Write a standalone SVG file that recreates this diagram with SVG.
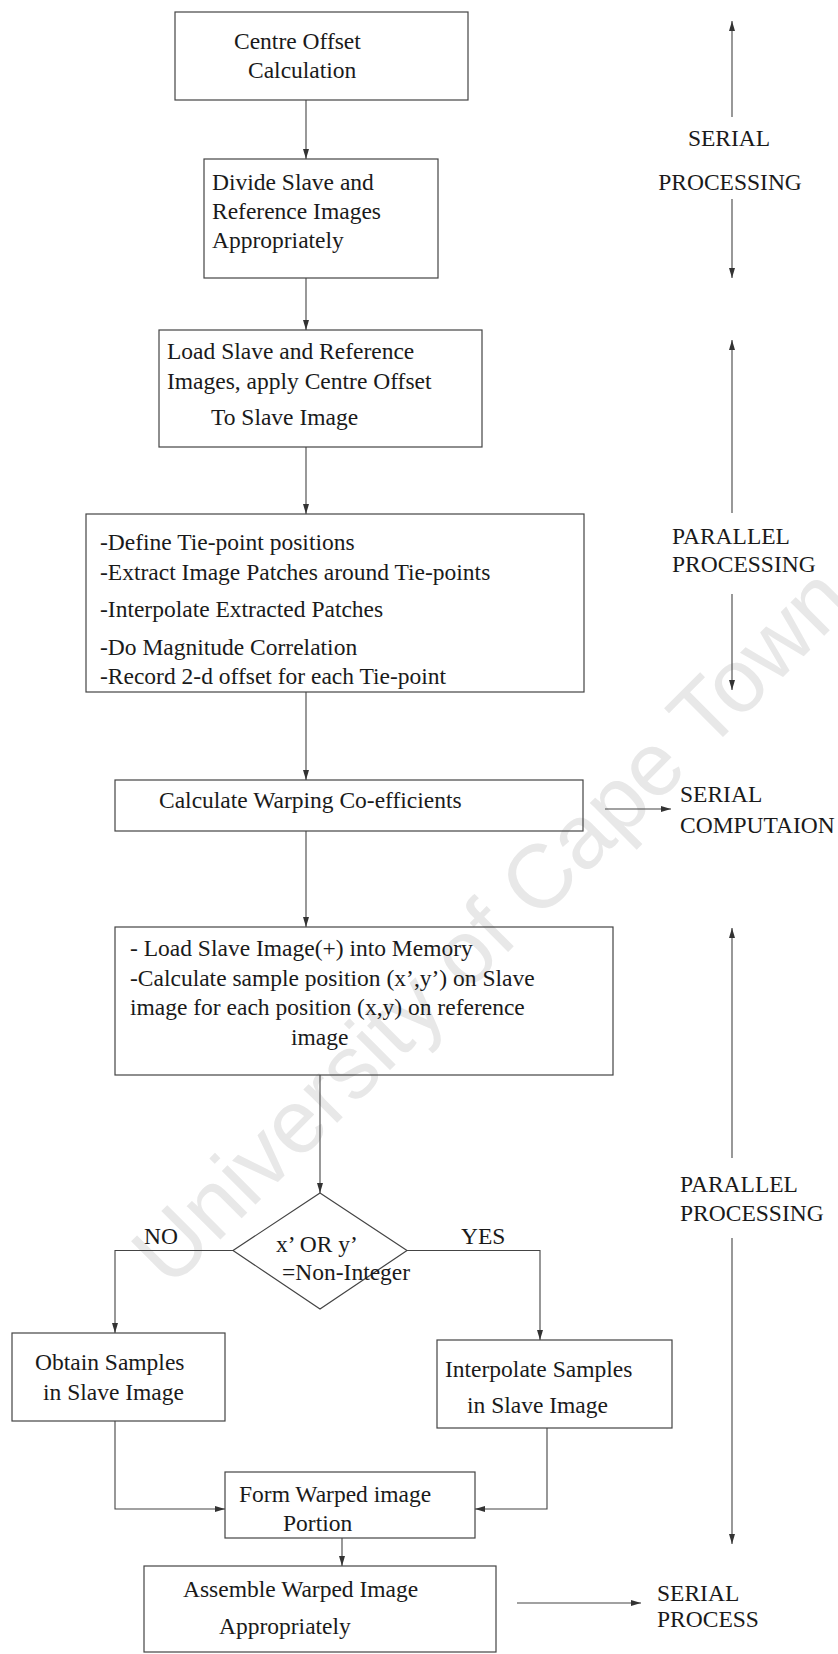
<svg xmlns="http://www.w3.org/2000/svg" width="838" height="1654" viewBox="0 0 838 1654">
<defs>
<marker id="ah" viewBox="0 0 10 6" refX="10" refY="3" markerWidth="10" markerHeight="6" markerUnits="userSpaceOnUse" orient="auto">
<path d="M0,0 L10,3 L0,6 Z" fill="#333"/>
</marker>
<style>
.bx{fill:none;stroke:#444;stroke-width:1.2}
.ar{fill:none;stroke:#444;stroke-width:1.1;marker-end:url(#ah)}
text{font-family:"Liberation Serif","Times New Roman",serif;font-size:23.5px;fill:#1a1a1a}
.wm{font-family:"Liberation Sans",Arial,sans-serif;font-size:90px;fill:#e8e8e8}
</style>
</defs>
<rect width="838" height="1654" fill="#fff"/>
<text class="wm" x="170" y="1290" transform="rotate(-45 170 1290)">University of Cape Town</text>

<g id="connectors">
<path class="ar" d="M306,100 V159"/>
<path class="ar" d="M306,278 V330"/>
<path class="ar" d="M306,447 V514"/>
<path class="ar" d="M306,692 V780"/>
<path class="ar" d="M306,831 V927"/>
<path class="ar" d="M320,1075 V1193"/>
<path class="ar" d="M233,1250.5 H115 V1333"/>
<path class="ar" d="M407,1250.5 H540 V1340"/>
<path class="ar" d="M115,1421 V1509 H225"/>
<path class="ar" d="M547,1428 V1509 H475"/>
<path class="ar" d="M342,1538 V1566"/>
<path class="ar" d="M605,809 H671"/>
<path class="ar" d="M517,1603 H641"/>
<path class="ar" d="M732,117 V21"/>
<path class="ar" d="M732,199 V278"/>
<path class="ar" d="M732,513 V340"/>
<path class="ar" d="M732,594 V690"/>
<path class="ar" d="M732,1158 V928"/>
<path class="ar" d="M732,1238 V1544"/>
</g>

<g id="n1"><rect class="bx" x="175" y="12" width="293" height="88"/>
<text x="234" y="49">Centre Offset</text><text x="248" y="78">Calculation</text></g>

<g id="n2"><rect class="bx" x="204" y="159" width="234" height="119"/>
<text x="212" y="190">Divide Slave and</text><text x="212" y="219">Reference Images</text><text x="212" y="248">Appropriately</text></g>

<g id="n3"><rect class="bx" x="159" y="330" width="323" height="117"/>
<text x="167" y="359">Load Slave and Reference</text><text x="167" y="389">Images, apply Centre Offset</text><text x="211" y="425">To Slave Image</text></g>

<g id="n4"><rect class="bx" x="86" y="514" width="498" height="178"/>
<text x="100" y="550">-Define Tie-point positions</text>
<text x="100" y="580">-Extract Image Patches around Tie-points</text>
<text x="100" y="617">-Interpolate Extracted Patches</text>
<text x="100" y="655">-Do Magnitude Correlation</text>
<text x="100" y="684">-Record 2-d offset for each Tie-point</text></g>

<g id="n5"><rect class="bx" x="115" y="780" width="468" height="51"/>
<text x="159" y="808">Calculate Warping Co-efficients</text></g>

<g id="n6"><rect class="bx" x="115" y="927" width="498" height="148"/>
<text x="130" y="956">- Load Slave Image(+) into Memory</text>
<text x="130" y="986">-Calculate sample position (x’,y’) on Slave</text>
<text x="130" y="1015">image for each position (x,y) on reference</text>
<text x="291" y="1045">image</text></g>

<g id="n7"><polygon class="bx" points="320,1193 407,1250.5 320,1309 233,1250.5"/>
<text x="276" y="1252">x’ OR y’</text><text x="282" y="1280">=Non-Integer</text></g>

<g id="lbl-no"><text x="144" y="1244">NO</text></g>
<g id="lbl-yes"><text x="461" y="1244">YES</text></g>

<g id="n8"><rect class="bx" x="12" y="1333" width="213" height="88"/>
<text x="35" y="1370">Obtain Samples</text><text x="43" y="1400">in Slave Image</text></g>

<g id="n9"><rect class="bx" x="437" y="1340" width="235" height="88"/>
<text x="445" y="1377">Interpolate Samples</text><text x="467" y="1413">in Slave Image</text></g>

<g id="n10"><rect class="bx" x="225" y="1472" width="250" height="66"/>
<text x="239" y="1502">Form Warped image</text><text x="283" y="1531">Portion</text></g>

<g id="n11"><rect class="bx" x="144" y="1566" width="352" height="86"/>
<text x="183" y="1597">Assemble Warped Image</text><text x="219" y="1634">Appropriately</text></g>

<g id="side-labels">
<text x="729" y="146" text-anchor="middle">SERIAL</text>
<text x="730" y="190" text-anchor="middle">PROCESSING</text>
<text x="672" y="544">PARALLEL</text>
<text x="672" y="572">PROCESSING</text>
<text x="680" y="802">SERIAL</text>
<text x="680" y="833">COMPUTAION</text>
<text x="680" y="1192">PARALLEL</text>
<text x="680" y="1221">PROCESSING</text>
<text x="657" y="1601">SERIAL</text>
<text x="657" y="1627">PROCESS</text>
</g>
</svg>
